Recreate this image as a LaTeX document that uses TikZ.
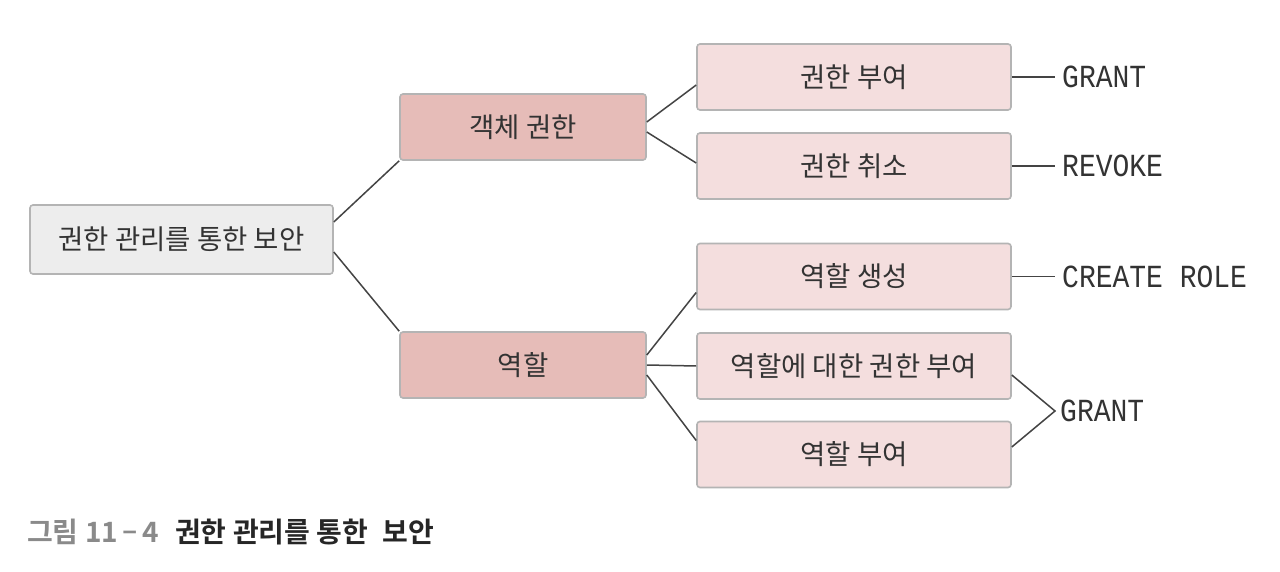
\documentclass[tikz,border=0pt]{standalone}
\usepackage{fontspec}
\setmainfont{Noto Sans CJK KR}
\newfontfamily\krbold{Noto Sans CJK KR Bold}
\newfontfamily\monof{Liberation Mono}
\usetikzlibrary{calc}
\definecolor{rootfill}{HTML}{EDEDED}
\definecolor{midfill}{HTML}{E6BCB8}
\definecolor{leaffill}{HTML}{F4DEDE}
\definecolor{boxline}{HTML}{B4B4B4}
\definecolor{txt}{HTML}{333333}
\definecolor{linec}{HTML}{444444}
\definecolor{capgray}{HTML}{8A8A8A}
\tikzset{
  box/.style={draw=boxline, line width=1.6pt, rounded corners=3pt, inner sep=0pt,
    font=\fontsize{27.5}{30}\selectfont, text=txt},
  rootbox/.style={box, fill=rootfill, minimum width=303pt, minimum height=69pt},
  midbox/.style={box, fill=midfill, minimum width=246pt, minimum height=66pt},
  leafbox/.style={box, fill=leaffill, minimum width=314pt, minimum height=66pt},
  conn/.style={draw=linec, line width=1.5pt},
  codetxt/.style={anchor=west, inner sep=0pt, text=txt, font=\monof\fontsize{28}{30}\selectfont},
}
\newcommand{\codestr}[1]{\scalebox{1}[1.15]{#1}}
\begin{document}
\begin{tikzpicture}[x=1pt,y=-1pt]
\useasboundingbox (0,0) rectangle (1280,572);
\fill[white] (0,0) rectangle (1280,572);
% nodes
\node[rootbox] (root) at (181.5,239.5) {권한 관리를 통한 보안};
\node[midbox] (obj) at (523,127) {객체 권한};
\node[midbox] (role) at (523,365) {역할};
\node[leafbox] (grant1) at (854,77) {권한 부여};
\node[leafbox] (revoke) at (854,166) {권한 취소};
\node[leafbox] (crole) at (854,276.5) {역할 생성};
\node[leafbox] (rgrant) at (854,366) {역할에 대한 권한 부여};
\node[leafbox] (rassign) at (854,454.5) {역할 부여};
% code labels
\node[codetxt] (t1) at (1062,77) {\codestr{GRANT}};
\node[codetxt] (t2) at (1062,166) {\codestr{REVOKE}};
\node[codetxt] (t3) at (1062,276.5) {\codestr{CREATE ROLE}};
\node[codetxt] (t4) at (1060,411) {\codestr{GRANT}};
\coordinate (tip) at (1055,411);
% connectors
\draw[conn] ([yshift=17.5pt]root.east) -- (obj.south west);
\draw[conn] ([yshift=-12.5pt]root.east) -- (role.north west);
\draw[conn] ([yshift=5pt]obj.east) -- ([yshift=-8pt]grant1.west);
\draw[conn] ([yshift=-5pt]obj.east) -- ([yshift=3pt]revoke.west);
\draw[conn] ([yshift=10pt]role.east) -- ([yshift=-16pt]crole.west);
\draw[conn] (role.east) -- (rgrant.west);
\draw[conn] ([yshift=-10pt]role.east) -- ([yshift=14pt]rassign.west);
\draw[conn] (grant1.east) -- ([xshift=-7pt]t1.west);
\draw[conn] (revoke.east) -- ([xshift=-7pt]t2.west);
\draw[conn] (crole.east) -- ([xshift=-7pt]t3.west);
\draw[conn] ([yshift=-9pt]rgrant.east) -- (tip) -- ([yshift=7.5pt]rassign.east);
% caption
\node[anchor=west, inner sep=0pt, font=\krbold\fontsize{28}{32}\selectfont] (cap) at (27,532)
  {\textcolor{capgray}{그림 11\,\raisebox{2pt}{–}\,4}\hspace{16pt}\textcolor{black!85}{권한 관리를 통한\hspace{8pt} 보안}};
\end{tikzpicture}
\end{document}
